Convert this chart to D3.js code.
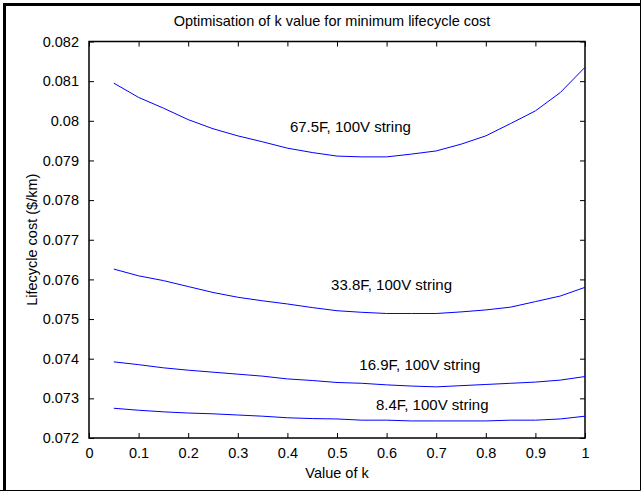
<!DOCTYPE html>
<html lang="en">
<head>
<meta charset="UTF-8">
<title>Optimisation of k value</title>
<script src="https://cdn.jsdelivr.net/npm/d3@7"></script>
<style>
    body { margin: 0; background: #fff; }
    svg { display: block; font-family: "Liberation Sans", Arial, sans-serif; }
    .axis text { font-size: 14.5px; fill: #000; }
    .axis path, .axis line { stroke: #000; }
</style>
</head>
<body>
<div id="chart"></div>
<script>
    // ---------------- data ----------------
    const kValues = [0.05, 0.1, 0.15, 0.2, 0.25, 0.3, 0.35, 0.4, 0.45, 0.5,
                     0.55, 0.6, 0.65, 0.7, 0.75, 0.8, 0.85, 0.9, 0.95, 1.0];

    const cost675 = [0.08095, 0.08059, 0.08032, 0.08003, 0.07980, 0.07962, 0.07947, 0.07931, 0.07920, 0.07911,
                     0.07909, 0.07909, 0.07916, 0.07924, 0.07941, 0.07962, 0.07993, 0.08025, 0.08071, 0.08135];
    const cost338 = [0.07626, 0.07609, 0.07597, 0.07582, 0.07567, 0.07555, 0.07546, 0.07538, 0.07529, 0.07521,
                     0.07517, 0.07514, 0.07514, 0.07514, 0.07518, 0.07523, 0.07530, 0.07544, 0.07558, 0.07580];
    const cost169 = [0.07392, 0.07385, 0.07377, 0.07371, 0.07366, 0.07361, 0.07356, 0.07349, 0.07345, 0.07340,
                     0.07338, 0.07334, 0.07331, 0.07329, 0.07332, 0.07335, 0.07338, 0.07341, 0.07346, 0.07355];
    const cost84  = [0.07275, 0.07270, 0.07266, 0.07263, 0.07261, 0.07258, 0.07255, 0.07251, 0.07249, 0.07248,
                     0.07245, 0.07245, 0.07243, 0.07243, 0.07243, 0.07243, 0.07245, 0.07245, 0.07248, 0.07255];

    const seriesNames = ["67.5F, 100V string", "33.8F, 100V string", "16.9F, 100V string", "8.4F, 100V string"];
    // where each curve label sits (data coords, centre of text)
    const labelK = [0.527, 0.61, 0.667, 0.692];
    const labelCost = [0.07985, 0.07586, 0.07384, 0.07283];

    const xTicks = [0, 0.1, 0.2, 0.3, 0.4, 0.5, 0.6, 0.7, 0.8, 0.9, 1];
    const yTicks = [0.072, 0.073, 0.074, 0.075, 0.076, 0.077, 0.078, 0.079, 0.08, 0.081, 0.082];

    const allSeries = [cost675, cost338, cost169, cost84];

    // ---------------- layout ----------------
    const width = 641, height = 491;
    const plot = { left: 89, right: 585, top: 41.5, bottom: 438 };

    const svg = d3.select("#chart").append("svg")
        .attr("width", width)
        .attr("height", height);

    // outer frame
    svg.append("rect").attr("x", 0).attr("y", 0).attr("width", width).attr("height", height).attr("fill", "#fff");
    svg.append("path")
        .attr("d", `M4.5,${height} V4.5 H${width}`)
        .attr("fill", "none").attr("stroke", "#000").attr("stroke-width", 3);
    svg.append("path")
        .attr("d", `M${width - 0.5},0 V${height - 0.5} H0`)
        .attr("fill", "none").attr("stroke", "#000").attr("stroke-width", 1);

    const x = d3.scaleLinear().domain([0, 1]).range([plot.left, plot.right]);
    const y = d3.scaleLinear().domain([0.072, 0.082]).range([plot.bottom, plot.top]);

    const tickLen = 5;
    const fmtY = d => (d === 0.08 ? "0.08" : d3.format(".3f")(d));
    const fmtX = d => (d === 0 || d === 1 ? String(d) : d3.format(".1f")(d));

    // bottom axis with labels
    svg.append("g").attr("class", "axis")
        .attr("transform", `translate(0,${plot.bottom})`)
        .call(d3.axisBottom(x).tickValues(xTicks).tickFormat(fmtX).tickSizeInner(-tickLen).tickSizeOuter(0).tickPadding(10))
        .call(g => g.select(".domain").remove());
    // top ticks
    svg.append("g").attr("class", "axis")
        .attr("transform", `translate(0,${plot.top})`)
        .call(d3.axisTop(x).tickValues(xTicks).tickFormat("").tickSizeInner(-tickLen).tickSizeOuter(0))
        .call(g => g.select(".domain").remove());
    // left axis with labels
    svg.append("g").attr("class", "axis")
        .attr("transform", `translate(${plot.left},0)`)
        .call(d3.axisLeft(y).tickValues(yTicks).tickFormat(fmtY).tickSizeInner(-tickLen).tickSizeOuter(0).tickPadding(10))
        .call(g => g.select(".domain").remove());
    // right ticks
    svg.append("g").attr("class", "axis")
        .attr("transform", `translate(${plot.right},0)`)
        .call(d3.axisRight(y).tickValues(yTicks).tickFormat("").tickSizeInner(-tickLen).tickSizeOuter(0))
        .call(g => g.select(".domain").remove());

    // box
    svg.append("rect")
        .attr("x", plot.left).attr("y", plot.top)
        .attr("width", plot.right - plot.left).attr("height", plot.bottom - plot.top)
        .attr("fill", "none").attr("stroke", "#000").attr("stroke-width", 1.5);

    // curves
    const line = d3.line()
        .x((d, i) => x(kValues[i]))
        .y(d => y(d));

    svg.append("g").selectAll("path.curve")
        .data(allSeries)
        .enter().append("path")
        .attr("class", "curve")
        .attr("d", line)
        .attr("fill", "none")
        .attr("stroke", "#0000ff")
        .attr("stroke-width", 1);

    // curve labels
    svg.append("g").selectAll("text")
        .data(seriesNames)
        .enter().append("text")
        .attr("x", (d, i) => x(labelK[i]))
        .attr("y", (d, i) => y(labelCost[i]))
        .attr("dy", "0.35em")
        .attr("text-anchor", "middle")
        .style("font-size", "15px")
        .text(d => d);

    // title and axis labels
    svg.append("text")
        .attr("x", (plot.left + plot.right) / 2 - 5)
        .attr("y", 21)
        .attr("dy", "0.35em")
        .attr("text-anchor", "middle")
        .style("font-size", "14.5px")
        .text("Optimisation of k value for minimum lifecycle cost");

    svg.append("text")
        .attr("x", (plot.left + plot.right) / 2)
        .attr("y", 473)
        .attr("dy", "0.35em")
        .attr("text-anchor", "middle")
        .style("font-size", "14.5px")
        .text("Value of k");

    svg.append("text")
        .attr("transform", `translate(32,${(plot.top + plot.bottom) / 2}) rotate(-90)`)
        .attr("dy", "0.35em")
        .attr("text-anchor", "middle")
        .style("font-size", "14.5px")
        .text("Lifecycle cost ($/km)");
</script>
</body>
</html>
